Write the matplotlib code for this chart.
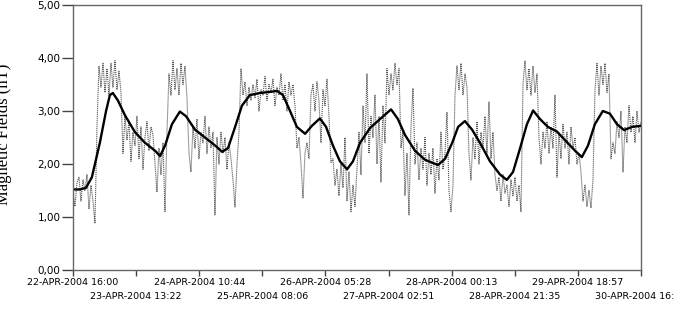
import matplotlib.pyplot as plt
import numpy as np

# hours since 22-APR-2004 16:00
span_hours = 192.32

# raw magnetic field (nT), evenly sampled over the span
raw_nt = [
    1.45, 1.2, 1.65, 1.75, 1.3, 1.7, 1.5, 1.8, 1.15, 1.6,
    1.3, 0.88, 2.7, 3.85, 3.45, 3.9, 3.35, 3.8, 3.3, 3.9,
    3.45, 3.95, 3.4, 3.75, 3.35, 2.2, 2.9, 2.45, 2.8, 2.05,
    2.6, 2.35, 2.9, 2.1, 2.7, 1.9, 2.5, 2.8, 2.25, 2.7,
    2.55, 2.0, 1.47, 2.3, 1.8, 2.4, 1.1, 2.6, 3.7, 3.3,
    3.95, 3.4, 3.8, 3.3, 3.9, 3.5, 3.85, 3.25, 2.2, 1.85,
    2.7, 2.3, 2.85, 2.1, 2.6, 2.4, 2.9, 2.2, 2.7, 2.3,
    2.6, 1.04, 2.5, 2.0, 2.6, 2.2, 2.5, 1.9, 2.4, 2.1,
    1.7, 1.19, 2.0, 2.6, 3.8, 3.3, 3.55, 3.1, 3.45, 3.2,
    3.5, 3.25, 3.6, 3.0, 3.4, 3.3, 3.65, 3.2, 3.5, 3.35,
    3.6, 3.1, 3.45, 3.3, 3.7, 3.2, 3.5, 3.0, 3.55, 3.3,
    3.5, 3.1, 2.3, 2.5, 2.0, 1.36, 2.2, 2.4, 2.1, 3.3,
    3.5, 3.0, 3.55, 3.2, 2.4, 3.4, 3.1, 3.6, 2.9, 2.03,
    2.1, 1.6, 1.9, 1.4, 2.0, 1.55, 2.5, 1.3, 1.85, 1.1,
    1.6, 1.2, 1.9, 2.6, 1.8, 3.1, 2.4, 3.7, 2.2, 2.9,
    2.5, 3.3, 2.0, 2.9, 1.66, 3.1, 2.4, 3.8, 3.3, 3.7,
    3.4, 3.9, 3.5, 3.8, 2.3, 2.6, 1.41, 2.2, 1.04, 2.7,
    3.43, 2.0, 2.4, 1.7, 2.3, 1.9, 2.5, 1.6, 2.2, 1.8,
    2.3, 1.45, 2.1, 1.7, 2.6, 1.9, 2.2, 2.98, 1.5, 1.1,
    1.6, 3.3, 3.85, 3.4, 3.9, 3.3, 3.7, 3.45, 2.2, 1.7,
    2.5, 2.1, 2.8, 2.0, 2.6, 2.3, 2.9, 2.2, 3.17, 2.1,
    2.6, 1.8, 1.5, 1.75, 1.3, 1.8, 1.45, 1.6, 1.2, 1.7,
    1.4, 1.75, 1.3, 1.6, 1.1, 3.5, 3.95, 3.4, 3.8, 3.3,
    3.85, 3.35, 3.7, 2.5, 2.0, 2.6, 2.3, 2.8, 2.2, 2.7,
    2.3, 3.3, 1.75, 2.6, 2.1, 2.75, 2.3, 2.6, 2.0, 2.7,
    2.3, 2.5, 2.0, 2.2, 1.85, 1.3, 1.6, 1.2, 1.5, 1.17,
    1.7, 3.4, 3.9, 3.3, 3.85, 3.5, 3.9, 3.35, 3.7, 2.1,
    2.4, 2.2, 2.8, 2.5, 3.0, 1.85, 2.7, 2.4, 3.1, 2.6,
    2.9, 2.4, 3.0, 2.6, 2.8,
]

# smoothed trend (hours, nT)
trend_hours = [
    0, 2.4, 4.4, 6.4, 9.1, 11.2, 12.5, 13.5, 15.2, 17.6,
    21.0, 24.4, 27.8, 29.5, 31.2, 33.5, 36.2, 38.3, 41.3, 44.7,
    48.1, 50.5, 52.5, 54.9, 57.2, 59.9, 63.3, 66.7, 69.1, 71.1,
    73.5, 75.8, 78.6, 80.9, 83.6, 85.7, 88.0, 90.4, 92.8, 94.8,
    97.2, 100.6, 104.0, 107.7, 110.0, 112.4, 115.8, 119.2, 123.6, 126.0,
    128.4, 130.4, 132.7, 135.1, 137.8, 141.2, 144.6, 146.9, 149.0, 151.4,
    153.7, 155.8, 158.1, 160.8, 163.9, 166.6, 170.0, 172.3, 174.4, 176.7,
    179.4, 181.8, 184.2, 186.6, 189.3, 192.3,
]
trend_nt = [
    1.52, 1.52, 1.55, 1.75, 2.4, 3.0, 3.3, 3.34, 3.2, 2.92,
    2.6, 2.4, 2.25, 2.15, 2.35, 2.75, 2.99, 2.9, 2.65, 2.5,
    2.35, 2.23, 2.3, 2.7, 3.1, 3.3, 3.34, 3.36, 3.38, 3.3,
    3.0, 2.7, 2.57, 2.72, 2.86, 2.7, 2.35, 2.05, 1.90, 2.05,
    2.4, 2.68, 2.85, 3.03, 2.85, 2.55, 2.25, 2.08, 1.98, 2.1,
    2.4, 2.7, 2.81, 2.65, 2.4, 2.05, 1.8, 1.70, 1.85, 2.3,
    2.75, 3.01, 2.85, 2.7, 2.61, 2.45, 2.25, 2.13, 2.35, 2.75,
    3.0, 2.95, 2.75, 2.64, 2.7, 2.72,
]

tick_labels = [
    "22-APR-2004 16:00", "23-APR-2004 13:22", "24-APR-2004 10:44",
    "25-APR-2004 08:06", "26-APR-2004 05:28", "27-APR-2004 02:51",
    "28-APR-2004 00:13", "28-APR-2004 21:35", "29-APR-2004 18:57",
    "30-APR-2004 16:19",
]
y_ticks = [0, 1, 2, 3, 4, 5]

raw_hours = np.linspace(0, span_hours, len(raw_nt))
tick_pos = np.linspace(0, span_hours, len(tick_labels))

fig = plt.figure(figsize=(6.75, 3.13), dpi=100)
ax = fig.add_axes([0.1081, 0.1374, 0.8415, 0.8466])

ax.plot(raw_hours, raw_nt, color='#555555', lw=0.8, linestyle=(0, (1, 0.8)))
ax.plot(trend_hours, trend_nt, color='black', lw=1.7)

ax.set_xlim(0, span_hours)
ax.set_ylim(0, 5)

# date labels alternate on two rows: even ones as major ticks, odd ones as minor
ax.set_xticks(tick_pos[0::2])
ax.set_xticklabels(tick_labels[0::2], fontsize=6.8, family='DejaVu Sans')
ax.set_xticks(tick_pos[1::2], minor=True)
ax.set_xticklabels(tick_labels[1::2], minor=True, fontsize=6.8, family='DejaVu Sans')
ax.set_yticks(y_ticks)
ax.set_yticklabels([f"{v:.2f}".replace('.', ',') for v in y_ticks],
                   fontsize=7.5, family='DejaVu Sans')
ax.tick_params(axis='y', length=8, width=1, pad=1, colors='#444444', labelcolor='black')
ax.tick_params(axis='x', which='major', length=4, width=1, pad=2,
               colors='#444444', labelcolor='black')
ax.tick_params(axis='x', which='minor', length=4, width=1, pad=11.5,
               colors='#444444', labelcolor='black')
for s in ax.spines.values():
    s.set_color('#666666')
    s.set_linewidth(1)

fig.text(0.006, 0.57, "Magnetic Fields (nT)", rotation=90, ha='center', va='center',
         family='Liberation Serif', fontsize=12)

fig.savefig('out.png', dpi=100)
